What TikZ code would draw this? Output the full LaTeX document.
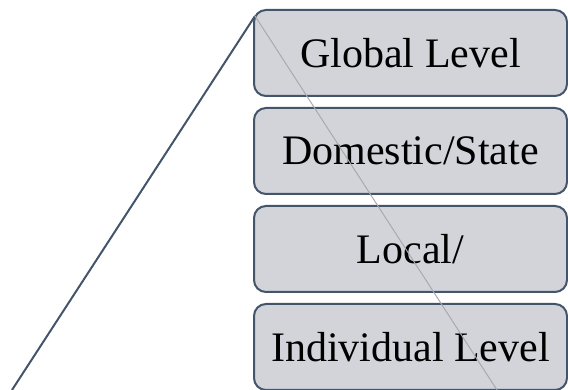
\documentclass[tikz,border=0pt]{standalone}
\usepackage{fontspec}
\setmainfont{Liberation Serif}
\usetikzlibrary{positioning}
\definecolor{boxfill}{RGB}{210,212,217}
\definecolor{boxedge}{RGB}{68,84,106}
\definecolor{guide}{RGB}{168,170,176}
\begin{document}
\begin{tikzpicture}[x=1pt, y=1pt, node distance=10pt,
    level/.style={draw=boxedge, line width=2pt, fill=boxfill, rounded corners=12pt,
      minimum width=313pt, minimum height=86pt, inner sep=0pt,
      font=\fontsize{42}{50}\selectfont}]
        % frame
        \useasboundingbox (0,0) rectangle (568,390);

        % level boxes
        \node[level] (global) at (410.5,337) {Global Level};
        \node[level, below=of global] (state) {Domestic/State};
        \node[level, below=of state] (local) {Local/};
        \node[level, below=of local] (indiv) {Individual Level};

        % slanted lines from the top corner
        \coordinate (apex) at (255,374);
        \coordinate (left_foot) at (12,0);
        \coordinate (right_foot) at (497,0);
        \draw[boxedge, line width=2pt] (left_foot) -- (apex);
        \draw[guide, line width=1pt] (apex) -- (right_foot);
\end{tikzpicture}
\end{document}
